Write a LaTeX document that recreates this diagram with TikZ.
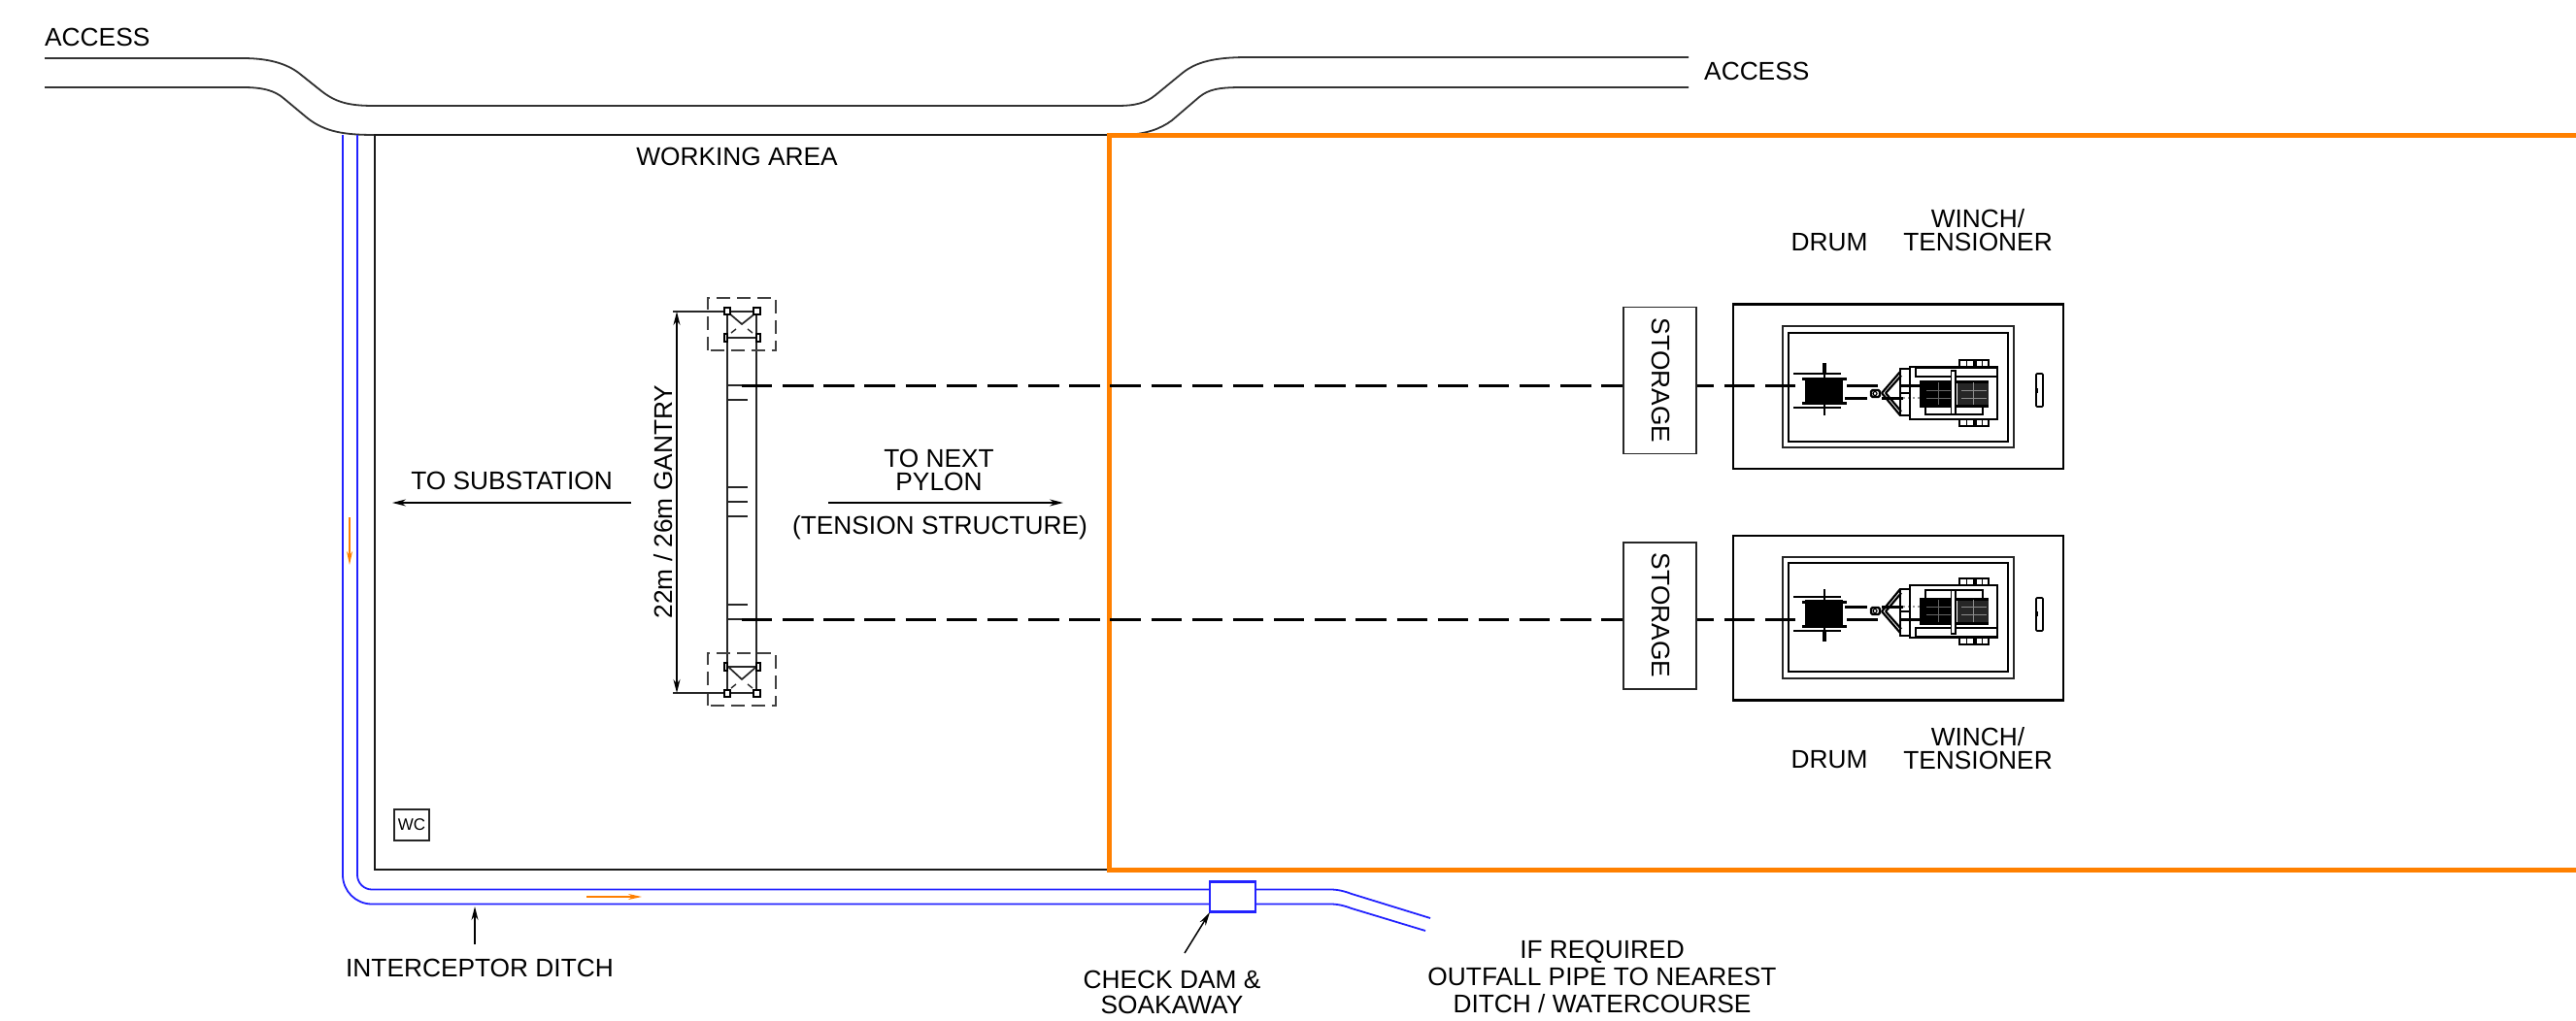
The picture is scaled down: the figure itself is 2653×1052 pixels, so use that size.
\documentclass[tikz,border=0pt]{standalone}
\usepackage{fontspec}
\setmainfont{Liberation Sans}
\usetikzlibrary{arrows.meta}
\definecolor{orangeline}{HTML}{FF8000}
\definecolor{ditchblue}{HTML}{2222FF}
\definecolor{roadgrey}{HTML}{333333}
\tikzset{
  lbl/.style={inner sep=0pt,font=\fontsize{26.3}{30}\selectfont,text=black,align=center},
  roadline/.style={draw=roadgrey,line width=1.8pt},
  ditch/.style={draw=ditchblue,line width=1.8pt},
  thinline/.style={draw=black!85,line width=1.7pt},
  heavy/.style={draw=black,line width=2.7pt},
  dimarrow/.style={draw=black,line width=1.5pt,-{Stealth[length=14pt,width=7pt]}},
  flowarrow/.style={draw=orangeline,line width=1.8pt,-{Stealth[length=14pt,width=6pt]}},
  cable/.style={draw=black,line width=3pt,dash pattern=on 31.4pt off 10.76pt},
  dashbox/.style={draw=black!75,line width=1.6pt,dash pattern=on 14pt off 7pt},
  plant/.style={draw=black,line width=1.7pt},
}
\newcommand{\winchset}{%
  \draw[heavy] (1785,313.5) rectangle (2125,483);
  \draw[thinline] (1836,336) rectangle (2074,461);
  \draw[heavy] (1842,343) rectangle (2068,455);
  \draw[plant,rounded corners=1pt] (2097,385) rectangle (2104,419);
  \draw[black,line width=2pt] (2098,400) -- (2098,405);
  % drum
  \fill[black] (1859,390) rectangle (1898,417);
  \draw[black,line width=3pt] (1856,390) -- (1902,390);
  \draw[black,line width=3pt] (1856,415) -- (1902,415);
  \draw[black,line width=2.6pt] (1847,385) -- (1896,385);
  \draw[black,line width=2.6pt] (1847,420) -- (1896,420);
  \draw[black,line width=2.6pt] (1879,378) -- (1879,428);
  \draw[black,line width=4.5pt] (1879,374) -- (1879,384);
  % second rope and the ropes past the tow bar
  \draw[black,line width=3pt] (1900,410) -- (1923,410);
  \draw[black,line width=3pt] (1938,410) -- (1960,410);
  \draw[black,line width=3pt] (1957,397) -- (1977,397);
  \draw[black!40,line width=1.2pt,dash pattern=on 2pt off 3pt] (1960,410) -- (1977,410);
  % trailer
  \draw[plant,line width=2.2pt] (1967,378) rectangle (2057,432);
  \draw[plant,line width=2.2pt] (1973,379) rectangle (2057,388);
  \draw[plant] (1957,380) rectangle (1967,405);
  \draw[plant] (1957,405) rectangle (1967,428);
  \draw[plant,line width=2.2pt] (1938,405) -- (1957,383);
  \draw[plant,line width=2.2pt] (1942,405) -- (1958,387);
  \draw[plant,line width=2.2pt] (1938,405) -- (1957,428);
  \draw[plant,line width=2.2pt] (1942,405) -- (1958,424);
  \draw[plant,rounded corners=1.5pt,line width=2.2pt] (1927,402) rectangle (1936,409);
  \draw[plant,line width=1.2pt] (1931,405.5) circle (2pt);
  \draw[plant] (1983,418) rectangle (2042,427);
  % winch drums
  \fill[black] (1977,393) rectangle (2011,418);
  \fill[black!85] (2016,393) rectangle (2048,418);
  \draw[black,line width=3pt] (1977,393) -- (2048,393);
  \draw[black,line width=3pt] (1977,418) -- (2048,418);
  \foreach \yy in {402,410}{
    \draw[black!60,line width=.8pt] (1984,\yy) -- (2009,\yy);
    \draw[black!45,line width=.8pt] (2020,\yy) -- (2046,\yy);
  }
  \draw[black!60,line width=.8pt] (1996,394) -- (1996,417);
  \draw[black!45,line width=.8pt] (2032,394) -- (2032,417);
  \draw[plant,fill=white] (2009.5,382) rectangle (2014,427);
  % small feet
  \foreach \xa/\xb in {2018/2033,2035/2048}{
    \draw[plant] (\xa,371) rectangle (\xb,378);
    \draw[plant] (\xa,432) rectangle (\xb,439);
    \draw[plant] ({(\xa+\xb)/2},371) -- ({(\xa+\xb)/2},378);
    \draw[plant] ({(\xa+\xb)/2},432) -- ({(\xa+\xb)/2},439);
  }
}
\begin{document}
\begin{tikzpicture}[x=1pt,y=-1pt]
\useasboundingbox (0,0) rectangle (2653,1052);
\clip (0,0) rectangle (2653,1052);
% access road
\draw[roadline] (46,60) -- (250,60) .. controls (280,60) and (298,67) .. (310,77) -- (330,93) .. controls (345,105) and (358,109) .. (385,109)
  -- (1150,109) .. controls (1170,109) and (1180,106) .. (1190,98) -- (1218,75) .. controls (1232,64) and (1250,59) .. (1285,59) -- (1739,59);
\draw[roadline] (46,90) -- (250,90) .. controls (270,90) and (283,93) .. (293,102) -- (317,122) .. controls (335,136) and (355,139) .. (386,139);
\draw[roadline] (1142,139) -- (1160,139) .. controls (1180,138) and (1195,133) .. (1207,124) -- (1235,100) .. controls (1245,92) and (1255,90) .. (1280,90) -- (1739,90);
% ditch
\draw[ditch] (353,139) -- (353,901.5) .. controls (353,918.1) and (366.4,931.5) .. (383,931.5) -- (1246,931.5);
\draw[ditch] (368,139) -- (368,901.5) .. controls (368,909.8) and (374.7,916.5) .. (383,916.5) -- (1246,916.5);
\draw[ditch] (1293,916.5) -- (1370,916.5) .. controls (1378,916.5) and (1384,918) .. (1392,921) -- (1473,946);
\draw[ditch] (1293,931.5) -- (1370,931.5) .. controls (1378,931.5) and (1384,933) .. (1392,936) -- (1468,959);
\draw[ditch,line width=2.2pt] (1246,908.5) rectangle (1293,939.5);
% working area and orange area
\draw[black!90,line width=2.2pt] (1142,139) -- (386,139) -- (386,896) -- (1142,896);
\draw[orangeline,line width=5pt] (2670,139) -- (1142,139) -- (1142,896) -- (2670,896);
% WC
\node[draw=black!85,line width=1.5pt,minimum width=36pt,minimum height=32pt,inner sep=0pt,font=\fontsize{17}{20}\selectfont,text=black] (wc) at (424,850) {WC};
% gantry
\draw[thinline] (749,321) -- (749,714);
\draw[thinline] (779,321) -- (779,714);
\foreach \yy in {412,502,517,532,623}{\draw[thinline,line width=1.4pt] (749,\yy) -- (770,\yy);}
\foreach \yy in {397,638}{\draw[thinline,line width=1.4pt] (749,\yy) -- (765,\yy);}
\foreach \yy in {321,348,687,714}{\draw[thinline] (749,\yy) -- (779,\yy);}
% top tower
\draw[thinline] (750,322) -- (764,334) -- (779,322);
\draw[thinline,line width=1.4pt] (753,343) -- (758,339);
\draw[thinline,line width=1.4pt] (775,343) -- (770,339);
\draw[plant,fill=white,line width=1.4pt] (746,317) rectangle (752,324);
\draw[plant,fill=white,line width=1.4pt] (776,317) rectangle (783,324);
\draw[plant,fill=white,line width=1.4pt] (746,344) rectangle (749,352);
\draw[plant,fill=white,line width=1.4pt] (779,344) rectangle (783,352);
\draw[dashbox] (729,361) -- (729,307) -- (799,307) -- (799,361) -- cycle;
% bottom tower
\draw[thinline] (750,687) -- (764,700) -- (779,687);
\draw[thinline,line width=1.4pt] (753,709) -- (758,705);
\draw[thinline,line width=1.4pt] (775,709) -- (770,705);
\draw[plant,fill=white,line width=1.4pt] (746,683) rectangle (749,691);
\draw[plant,fill=white,line width=1.4pt] (779,683) rectangle (783,691);
\draw[plant,fill=white,line width=1.4pt] (746,711) rectangle (752,718);
\draw[plant,fill=white,line width=1.4pt] (776,711) rectangle (783,718);
\draw[dashbox] (729,727) -- (729,673) -- (799,673) -- (799,727) -- cycle;
% dimension
\draw[thinline,line width=1.4pt] (693,321) -- (745,321);
\draw[thinline,line width=1.4pt] (693,714) -- (745,714);
\draw[dimarrow,{Stealth[length=14pt,width=7pt]}-{Stealth[length=14pt,width=7pt]}] (697,321) -- (697,714);
% winch sets: the lower one is the upper one mirrored
\winchset
\begin{scope}[shift={(0,1035)},yscale=-1]\winchset\end{scope}
% cables
\draw[cable] (764,397) -- (1935,397);
\draw[cable] (764,638) -- (1935,638);
% storage
\node[draw=black!85,fill=white,line width=1.5pt,minimum width=75pt,minimum height=151pt,inner sep=0pt] (st1) at (1709.5,392) {};
\node[draw=black!85,fill=white,line width=1.5pt,minimum width=75pt,minimum height=151pt,inner sep=0pt] (st2) at (1709.5,634.5) {};
\node[lbl,rotate=-90] (st1t) at (1711,392) {STORAGE};
\node[lbl,rotate=-90] (st2t) at (1711,634) {STORAGE};
% text
\node[lbl,anchor=west] (acc1) at (46,38) {ACCESS};
\node[lbl,anchor=west] (acc2) at (1755,73) {ACCESS};
\node[lbl] (wa) at (759,161) {WORKING AREA};
\node[lbl] (d1) at (1884,250) {DRUM};
\node[lbl] (w1) at (2037,237) {WINCH/\\[-6pt]TENSIONER};
\node[lbl] (d2) at (1884,783) {DRUM};
\node[lbl] (w2) at (2037,771) {WINCH/\\[-6pt]TENSIONER};
\node[lbl] (sub) at (527,495) {TO SUBSTATION};
\node[lbl] (np) at (967,484) {TO NEXT\\[-6pt]PYLON};
\node[lbl] (ts) at (968,544) {(TENSION STRUCTURE)};
\node[lbl,rotate=90] (g) at (683,517) {22m / 26m GANTRY};
\node[lbl] (id) at (494,997) {INTERCEPTOR DITCH};
\node[lbl] (cd) at (1207,1022) {CHECK DAM \&\\[-4pt]SOAKAWAY};
\node[lbl] (ir) at (1650,1006) {IF REQUIRED\\[-2pt]OUTFALL PIPE TO NEAREST\\[-2pt]DITCH / WATERCOURSE};
% arrows
\coordinate (subA) at (650,518); \coordinate (subB) at (404,518);
\coordinate (npA) at (853,518); \coordinate (npB) at (1095,518);
\coordinate (idA) at (489,973); \coordinate (idB) at (489,934);
\coordinate (cdA) at (1220,982); \coordinate (cdB) at (1246,940);
\draw[dimarrow] (subA) -- (subB);
\draw[dimarrow] (npA) -- (npB);
\draw[dimarrow] (idA) -- (idB);
\draw[dimarrow] (cdA) -- (cdB);
\coordinate (f1A) at (360,533); \coordinate (f1B) at (360,582);
\coordinate (f2A) at (604,924); \coordinate (f2B) at (661,924);
\draw[flowarrow] (f1A) -- (f1B);
\draw[flowarrow] (f2A) -- (f2B);
\end{tikzpicture}
\end{document}
